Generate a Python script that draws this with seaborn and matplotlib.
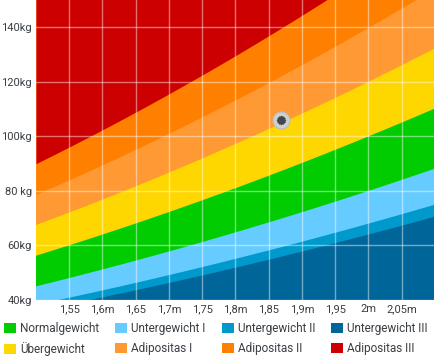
import numpy as np
import pandas as pd
import matplotlib.pyplot as plt
import seaborn as sns
from matplotlib.patches import Patch

# BMI limits of the weight bands (kg/m²), from bottom to top
bmi_limits = [0, 16, 17, 20, 25, 30, 35, 40]
band_names = ["Untergewicht III", "Untergewicht II", "Untergewicht I", "Normalgewicht",
              "Übergewicht", "Adipositas I", "Adipositas II", "Adipositas III"]
band_colors = ["#006699", "#0099cc", "#66ccff", "#00cc00",
               "#ffd700", "#ff9933", "#ff8000", "#cc0000"]

# axis ticks
height_ticks = [1.55, 1.6, 1.65, 1.7, 1.75, 1.8, 1.85, 1.9, 1.95, 2.0, 2.05]
height_labels = ["1,55", "1,6m", "1,65", "1,7m", "1,75", "1,8m", "1,85", "1,9m", "1,95", "2m", "2,05m"]
weight_ticks = [40, 60, 80, 100, 120, 140]
weight_labels = ["40kg", "60kg", "80 kg", "100kg", "120kg", "140kg"]

# the person's marker
person = pd.DataFrame({"height": [1.868], "weight": [106]})

sns.set_theme(style="white")
plt.rcParams["font.family"] = ["Roboto", "DejaVu Sans"]
text_color = "#3a3f44"

fig = plt.figure(figsize=(4.35, 3.6), dpi=100)
ax = fig.add_axes([36 / 435, 60 / 360, 1 - 36 / 435, 300 / 360])

# weight = bmi * height² ; each band is filled up to the top and covered by the next
heights = np.linspace(1.5, 2.1, 300)
for i, name in enumerate(band_names):
    low = bmi_limits[i] * heights ** 2
    ax.fill_between(heights, low, 200, color=band_colors[i], linewidth=0, zorder=1)

# marker
sns.scatterplot(data=person, x="height", y="weight", s=150, color="#cfd0d2",
                edgecolor="#b9bbbd", linewidth=0.8, ax=ax, zorder=5)
sns.scatterplot(data=person, x="height", y="weight", s=38, color="#44474a",
                linewidth=0, ax=ax, zorder=6)
sns.scatterplot(data=person, x="height", y="weight", s=60, color="#44474a",
                marker=(12, 1, 0), linewidth=0, ax=ax, zorder=6)

ax.set_xlim(1.5, 2.1)
ax.set_ylim(40, 150)
ax.set_xticks(height_ticks)
ax.set_xticklabels(height_labels)
ax.set_yticks(weight_ticks)
ax.set_yticklabels(weight_labels)
ax.set_xlabel("")
ax.set_ylabel("")
ax.tick_params(axis="both", length=0, labelsize=8, colors=text_color, pad=3)
ax.set_axisbelow(False)
ax.grid(True, color="white", alpha=0.45, linewidth=1)
for s in ax.spines.values():
    s.set_visible(False)

# legend, row-wise order
order = [3, 4, 2, 5, 1, 6, 0, 7]
handles = [Patch(facecolor=band_colors[i], edgecolor="none") for i in order]
labels = [band_names[i] for i in order]
fig.legend(handles, labels, ncol=4, loc="upper left", bbox_to_anchor=(4 / 435, 1 - 322 / 360),
           frameon=False, fontsize=8.5, handlelength=1.0, handleheight=1.0,
           handletextpad=0.35, columnspacing=1.37, labelspacing=0.58,
           labelcolor=text_color, borderaxespad=0, borderpad=0)

fig.savefig("out.png", dpi=100)
